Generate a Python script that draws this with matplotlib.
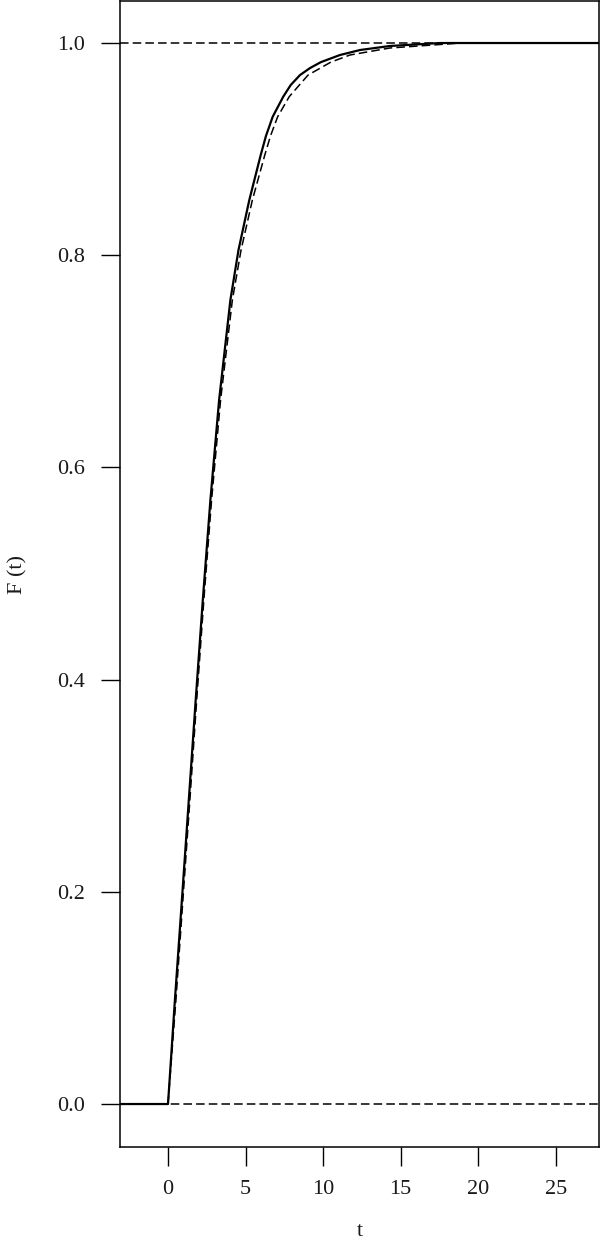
import matplotlib
matplotlib.use("Agg")
import matplotlib.pyplot as plt

# Solid curve
t_solid = [-5, 0, 0.445, 0.896, 1.341, 1.786, 2.244, 2.734, 3.295, 4.023, 4.545, 5.242,
           5.977, 6.318, 6.750, 7.434, 7.911, 8.511, 9.156, 9.86, 11.09, 12.38, 14.31,
           17.54, 30]
F_solid = [0, 0, 0.098, 0.1923, 0.2865, 0.3808, 0.4750, 0.5693, 0.6635, 0.7578, 0.8049,
           0.8520, 0.8944, 0.9125, 0.9305, 0.9495, 0.9604, 0.9698, 0.9764, 0.9820, 0.9887,
           0.9934, 0.9972, 1.0, 1.0]

# Dashed curve
t_dash = [0, 0.51, 0.96, 1.41, 1.85, 2.31, 2.81, 3.39, 4.15, 4.71, 5.44, 6.24, 6.61, 7.07,
          7.82, 9.03, 10.5, 11.73, 14.3, 18.9, 30]
F_dash = [0, 0.098, 0.1923, 0.2865, 0.3808, 0.4750, 0.5693, 0.6635, 0.7578, 0.8049, 0.8520,
          0.8944, 0.9125, 0.9305, 0.9495, 0.9698, 0.9820, 0.9887, 0.9953, 1.0, 1.0]

ref_levels = [0.0, 1.0]
x_ticks = [0, 5, 10, 15, 20, 25]
y_ticks = [0.0, 0.2, 0.4, 0.6, 0.8, 1.0]
y_ticklabels = ["0.0", "0.2", "0.4", "0.6", "0.8", "1.0"]

plt.rcParams['font.family'] = ['Liberation Serif', 'DejaVu Serif']

W, H = 600, 1244
fig = plt.figure(figsize=(W / 100, H / 100), dpi=100)
ax = fig.add_axes([120 / W, (H - 1147) / H, (599 - 120) / W, (1147 - 1) / H])

for lvl in ref_levels:
    ax.axhline(lvl, color='black', lw=1.1, ls=(0, (5.6, 2.7)), zorder=1)
ax.plot(t_dash, F_dash, color='black', lw=1.1, ls=(0, (5.6, 2.7)), zorder=2)
ax.plot(t_solid, F_solid, color='black', lw=1.6, zorder=3, solid_joinstyle='round')

ax.set_xlim(-3.095, 27.79)
ax.set_ylim(-0.0405, 1.0396)

ax.set_xticks(x_ticks)
ax.set_xticklabels([str(v) for v in x_ticks])
ax.set_yticks(y_ticks)
ax.set_yticklabels(y_ticklabels)

ax.tick_params(axis='both', direction='out', length=13.5, width=1.0, labelsize=16,
               color='black', labelcolor='#1a1a1a')
ax.tick_params(axis='x', pad=10)
ax.tick_params(axis='y', pad=12)
for s in ax.spines.values():
    s.set_linewidth(1.1)
    s.set_color('black')

ax.set_xlabel('t', fontsize=16, color='#1a1a1a', labelpad=17)
ax.set_ylabel('F (t)', fontsize=16, color='#1a1a1a', labelpad=21)

fig.savefig('out.png', dpi=100)
